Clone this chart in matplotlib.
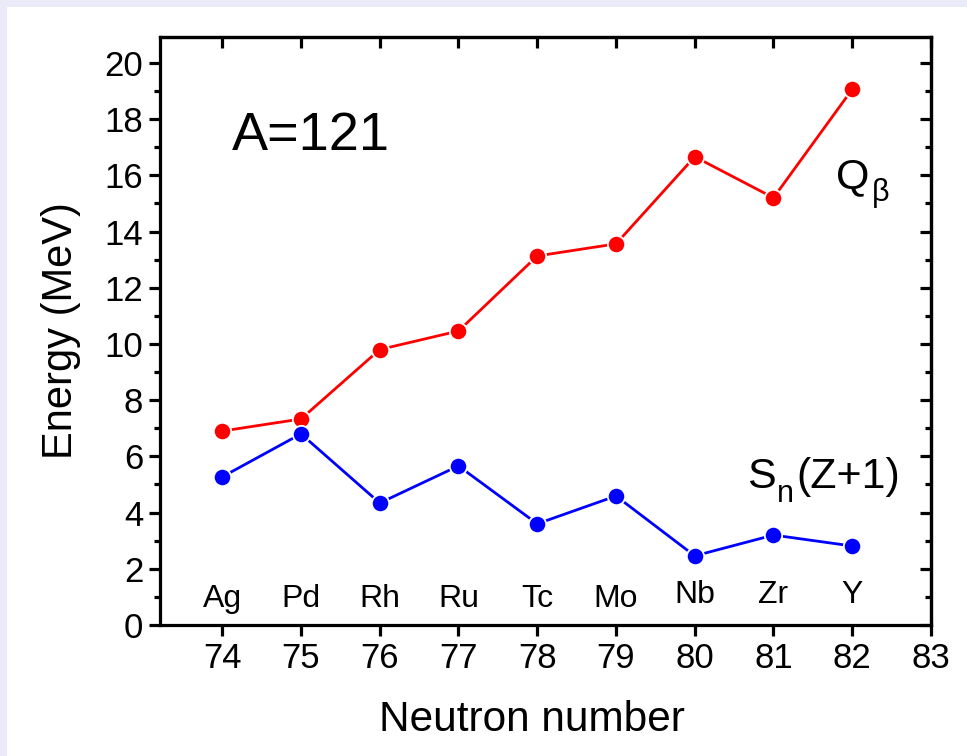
import matplotlib
matplotlib.use('Agg')
import matplotlib.pyplot as plt
from matplotlib.patches import Rectangle
from matplotlib.ticker import MultipleLocator

plt.rcParams['font.family'] = ['Liberation Sans', 'DejaVu Sans']

# data
neutrons = [74, 75, 76, 77, 78, 79, 80, 81, 82]
elements = ['Ag', 'Pd', 'Rh', 'Ru', 'Tc', 'Mo', 'Nb', 'Zr', 'Y']
q_beta = [6.90, 7.33, 9.80, 10.46, 13.13, 13.56, 16.66, 15.20, 19.06]
s_n = [5.27, 6.80, 4.34, 5.66, 3.60, 4.59, 2.46, 3.20, 2.81]

fig = plt.figure(figsize=(9.67, 7.56), dpi=100)
fig.patch.set_facecolor('#eaeaf9')
# white panel, lavender strip only on the top and left edges
panel = Rectangle((7 / 967, 0), 1, 1 - 7 / 756, transform=fig.transFigure,
                  facecolor='white', edgecolor='none', zorder=-10)
fig.add_artist(panel)

ax = fig.add_axes([160 / 967, 131 / 756, 771 / 967, 588 / 756])
ax.set_facecolor('white')

ax.plot(neutrons, q_beta, '-o', color='red', lw=2, ms=12.5,
        mec='white', mew=1.3, clip_on=False, zorder=3)
ax.plot(neutrons, s_n, '-o', color='blue', lw=2, ms=12.5,
        mec='white', mew=1.3, clip_on=False, zorder=3)

ax.set_xlim(73.21, 83)
ax.set_ylim(0, 20.92)
ax.xaxis.set_major_locator(MultipleLocator(1))
ax.yaxis.set_major_locator(MultipleLocator(2))
ax.yaxis.set_minor_locator(MultipleLocator(1))

for s in ax.spines.values():
    s.set_linewidth(2.3)

ax.tick_params(axis='both', which='major', labelsize=25, width=2.3, length=8, pad=4)
ax.tick_params(axis='both', which='minor', width=2.3, length=4.3)
ax.tick_params(axis='x', which='both', direction='out', top=False)
ax.tick_params(axis='y', which='both', direction='out', right=False)

# inward ticks on top and right
ax_top = ax.secondary_xaxis('top')
ax_top.xaxis.set_major_locator(MultipleLocator(1))
ax_top.tick_params(direction='in', width=2.3, length=8, labeltop=False)
ax_top.spines['top'].set_linewidth(2.3)
ax_right = ax.secondary_yaxis('right')
ax_right.yaxis.set_major_locator(MultipleLocator(2))
ax_right.yaxis.set_minor_locator(MultipleLocator(1))
ax_right.tick_params(which='major', direction='in', width=2.3, length=8, labelright=False)
ax_right.tick_params(which='minor', direction='in', width=2.3, length=4.3)
ax_right.spines['right'].set_linewidth(2.3)

ax.set_xlabel('Neutron number', fontsize=30.5)
ax.xaxis.set_label_coords(0.482, -0.128)
ax.set_ylabel('Energy (MeV)', fontsize=30)
ax.yaxis.set_label_coords(-0.103, 0.5)

for n, el in zip(neutrons, elements):
    yy = 0.65 if n < 80 else 0.8
    ax.text(n, yy, el, fontsize=23, ha='center', va='baseline')

ax.text(74.12, 16.9, 'A=121', fontsize=39, ha='left', va='baseline')

# Q_beta, subscript drawn as its own text (Origin-style, lower and smaller)
ax.text(81.80, 15.55, 'Q', fontsize=31, ha='left', va='baseline')
ax.text(82.25, 15.08, 'β', fontsize=22, ha='left', va='baseline')

# S_n(Z+1)
ax.text(80.67, 4.87, 'S', fontsize=31, ha='left', va='baseline')
ax.text(81.05, 4.38, 'n', fontsize=22, ha='left', va='baseline')
ax.text(81.29, 4.87, '(Z+1)', fontsize=31, ha='left', va='baseline')

fig.savefig('out.png', dpi=100, facecolor=fig.get_facecolor())
